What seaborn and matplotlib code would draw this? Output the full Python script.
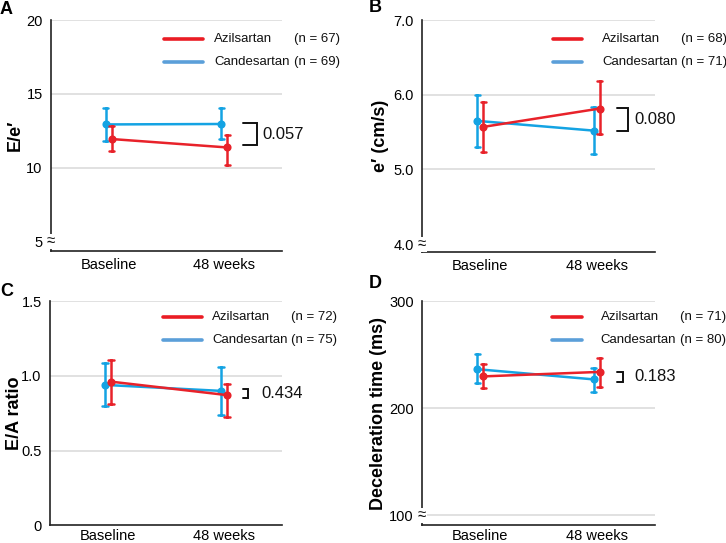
import numpy as np
import pandas as pd
import matplotlib
matplotlib.use("Agg")
import matplotlib.pyplot as plt
from matplotlib import transforms as mtrans
from matplotlib.lines import Line2D
import seaborn as sns

sns.set_theme(style="white")
plt.rcParams["font.family"] = ["Liberation Sans", "DejaVu Sans"]

# ---------------- data ----------------
times = ["Baseline", "48 weeks"]
groups = ["Candesartan", "Azilsartan"]

# Panel A: E/e'
a_cand_mean = [12.92, 12.95]
a_cand_lo = [11.80, 11.90]
a_cand_hi = [14.05, 14.05]
a_azil_mean = [11.93, 11.36]
a_azil_lo = [11.15, 10.18]
a_azil_hi = [12.80, 12.22]
a_n = {"Azilsartan": 67, "Candesartan": 69}
a_p = "0.057"

# Panel B: e' (cm/s)
b_cand_mean = [5.65, 5.52]
b_cand_lo = [5.30, 5.21]
b_cand_hi = [6.00, 5.84]
b_azil_mean = [5.57, 5.815]
b_azil_lo = [5.24, 5.47]
b_azil_hi = [5.90, 6.18]
b_n = {"Azilsartan": 68, "Candesartan": 71}
b_p = "0.080"

# Panel C: E/A ratio
c_cand_mean = [0.94, 0.90]
c_cand_lo = [0.80, 0.737]
c_cand_hi = [1.085, 1.06]
c_azil_mean = [0.962, 0.872]
c_azil_lo = [0.813, 0.726]
c_azil_hi = [1.108, 0.946]
c_n = {"Azilsartan": 72, "Candesartan": 75}
c_p = "0.434"

# Panel D: Deceleration time (ms)
d_cand_mean = [236.5, 227.0]
d_cand_lo = [223.5, 215.5]
d_cand_hi = [250.5, 238.0]
d_azil_mean = [229.8, 234.0]
d_azil_lo = [218.8, 220.3]
d_azil_hi = [241.0, 247.4]
d_n = {"Azilsartan": 71, "Candesartan": 80}
d_p = "0.183"

BLUE = "#14A3E3"
RED = "#E8222A"
LEG_BLUE = "#5B9FD9"
LEG_RED = "#EA1C24"
GRID = "#DCDCDC"

W, H = 726, 543
fig = plt.figure(figsize=(W / 100, H / 100), dpi=100)


def px_axes(l, r, t, b):
    return fig.add_axes([l / W, 1 - b / H, (r - l) / W, (b - t) / H])


def make_df(cm, clo, chi, am, alo, ahi):
    rows = []
    for g, (m, lo, hi) in zip(groups, [(cm, clo, chi), (am, alo, ahi)]):
        for i, t in enumerate(times):
            for v in (lo[i], m[i], hi[i]):
                rows.append({"time": t, "group": g, "value": v})
    return pd.DataFrame(rows)


def panel(ax, df, ylim, yticks, yticklabels, grid_vals, ylabel, label_x,
          leg, nvals, bracket, ptext, brk=None, xpad=5):
    for gv in grid_vals:
        ax.axhline(gv, color=GRID, lw=1.2, zorder=0)
    sns.pointplot(data=df, x="time", y="value", hue="group", order=times,
                  hue_order=groups, palette={"Candesartan": BLUE, "Azilsartan": RED},
                  estimator="median", errorbar=("pi", 100), dodge=0.05,
                  capsize=0.045, markers="o", markersize=4.5, linewidth=1.8,
                  err_kws={"linewidth": 1.8}, legend=False, ax=ax)
    ax.set_xlim(-0.5, 1.5)
    ax.set_ylim(*ylim)
    ax.set_yticks(yticks)
    ax.set_yticklabels(yticklabels)
    ax.set_xlabel("")
    ax.set_ylabel(ylabel, fontsize=13, fontweight="bold", color="black")
    ax.yaxis.set_label_coords(label_x, 0.5)
    ax.yaxis.label.set_va("center")
    ax.tick_params(axis="both", length=0, labelsize=10.5, colors="black")
    ax.tick_params(axis="y", pad=6)
    ax.tick_params(axis="x", pad=xpad)
    for s in ["top", "right"]:
        ax.spines[s].set_visible(False)
    for s in ["left", "bottom"]:
        ax.spines[s].set_color("#222222")
        ax.spines[s].set_linewidth(1.2)
    # legend drawn manually
    lx0, lx1, tx, nx, ry = leg
    for (name, col), y in zip([("Azilsartan", LEG_RED), ("Candesartan", LEG_BLUE)], ry):
        ax.add_line(Line2D([lx0, lx1], [y, y], transform=ax.transAxes,
                           color=col, lw=2.6, clip_on=False))
        ax.text(tx, y, name, transform=ax.transAxes, va="center", ha="left",
                fontsize=9.5, color="#111111")
        ax.text(nx, y, f"(n = {nvals[name]})", transform=ax.transAxes,
                va="center", ha="left", fontsize=9.5, color="#111111", clip_on=False)
    # significance bracket
    bt = mtrans.blended_transform_factory(ax.transAxes, ax.transData)
    bx0, bx1, by0, by1, tyv = bracket
    ax.add_line(Line2D([bx0, bx1, bx1, bx0], [by1, by1, by0, by0], transform=bt,
                       color="#111111", lw=1.4, clip_on=False,
                       solid_joinstyle="miter"))
    ax.text(0.913, tyv, ptext, transform=bt, va="center", ha="left",
            fontsize=12, color="#111111")
    if brk is not None:
        ax.text(0.0, brk, "\u2248", transform=bt, va="center", ha="center",
                fontsize=11, color="#111111", zorder=5,
                bbox=dict(fc="white", ec="none", pad=0.2))


# Panel A
axA = px_axes(51, 282, 20, 250.7)
panel(axA, make_df(a_cand_mean, a_cand_lo, a_cand_hi, a_azil_mean, a_azil_lo, a_azil_hi),
      (4.36, 20), [5, 10, 15, 20], ["5", "10", "15", "20"], [10, 15, 20],
      "E/e\u2032", -0.156,
      (0.489, 0.658, 0.706, 1.052, (0.918, 0.818)), a_n,
      (0.83, 0.891, 11.5, 13.03, 12.24), a_p, brk=5)

# Panel B
axB = px_axes(422.3, 654.7, 20, 251.7)
panel(axB, make_df(b_cand_mean, b_cand_lo, b_cand_hi, b_azil_mean, b_azil_lo, b_azil_hi),
      (3.9, 7.0), [4, 5, 6, 7], ["4.0", "5.0", "6.0", "7.0"], [5, 6, 7],
      "e\u2032 (cm/s)", -0.182,
      (0.562, 0.687, 0.773, 1.113, (0.918, 0.819)), b_n,
      (0.839, 0.885, 5.52, 5.82, 5.67), b_p, brk=4)

# Panel C
axC = px_axes(50, 282, 301.3, 525.3)
panel(axC, make_df(c_cand_mean, c_cand_lo, c_cand_hi, c_azil_mean, c_azil_lo, c_azil_hi),
      (0, 1.5), [0, 0.5, 1.0, 1.5], ["0", "0.5", "1.0", "1.5"], [0.5, 1.0, 1.5],
      "E/A ratio", -0.151,
      (0.487, 0.655, 0.698, 1.040, (0.93, 0.828)), c_n,
      (0.833, 0.852, 0.852, 0.915, 0.88), c_p, xpad=3)

# Panel D
axD = px_axes(422.3, 654.7, 301.3, 525.3)
panel(axD, make_df(d_cand_mean, d_cand_lo, d_cand_hi, d_azil_mean, d_azil_lo, d_azil_hi),
      (90.6, 300), [100, 200, 300], ["100", "200", "300"], [100, 200, 300],
      "Deceleration time (ms)", -0.19,
      (0.558, 0.687, 0.767, 1.107, (0.93, 0.829)), d_n,
      (0.839, 0.864, 225.0, 233.6, 229.6), d_p, brk=100, xpad=3)

# panel letters
for letter, xp, yp in [("A", 0, 9), ("B", 369, 8), ("C", 0, 291), ("D", 369, 284)]:
    fig.text(xp / W, 1 - yp / H, letter, fontsize=13, fontweight="bold",
             ha="left", va="center", color="black")

fig.savefig("out.png", dpi=100)
